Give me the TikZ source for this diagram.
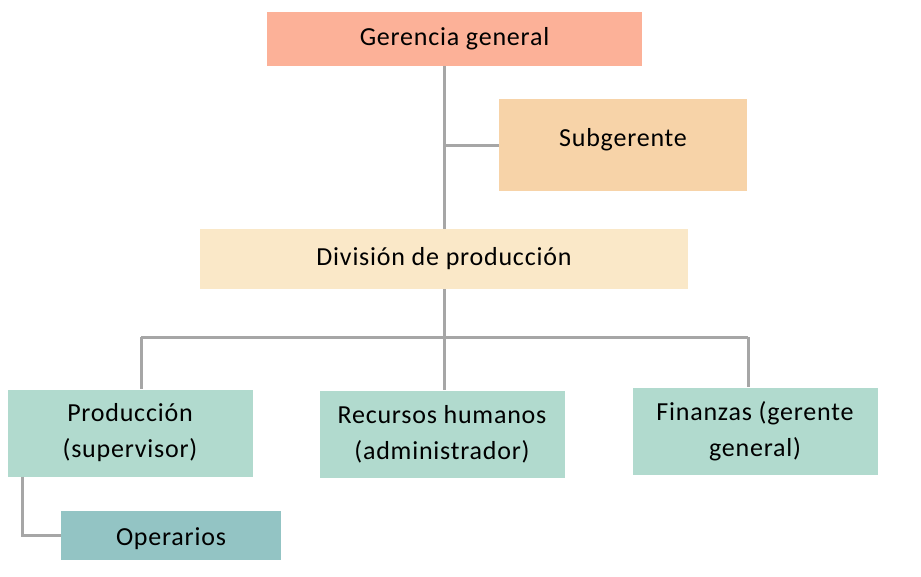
\documentclass[tikz,border=0pt]{standalone}
\usepackage{fontspec}
\setmainfont{Carlito}[LetterSpace=3]
\usetikzlibrary{positioning}
\definecolor{ggcol}{HTML}{FCB198}
\definecolor{subcol}{HTML}{F7D3A8}
\definecolor{divcol}{HTML}{FAE8C8}
\definecolor{areacol}{HTML}{B1DACE}
\definecolor{opcol}{HTML}{93C4C4}
\definecolor{linecol}{HTML}{A6A6A6}

\begin{document}
\begin{tikzpicture}[
    x=1pt, y=-1pt,
    unit/.style={
        rectangle,
        inner sep=0pt,
        align=center,
        font=\fontsize{26}{36}\selectfont,
        text=black,
    },
    area/.style={unit, fill=areacol, minimum width=245pt, minimum height=87pt},
    link/.style={draw=linecol, line width=3pt},
]
\useasboundingbox (0,0) rectangle (921,576);

\node[unit, fill=ggcol, minimum width=375pt, minimum height=54pt] (GG) at (454.5,39) {Gerencia general};
\node[unit, fill=subcol, minimum width=248pt, minimum height=92pt, text depth=15pt] (SG) at (623,145) {Subgerente};
\node[unit, fill=divcol, minimum width=488pt, minimum height=60pt] (DP) at (444,259) {División de producción};

\node[area] (PR) at (130,433) {Producción\\(supervisor)};
\node[area] (RH) at (442,434) {Recursos humanos\\(administrador)};
\node[area] (FI) at (755,431) {Finanzas (gerente\\general)};
\node[unit, fill=opcol, minimum width=220pt, minimum height=49pt, text height=24pt] (OP) at (171,535.5) {Operarios};

\coordinate (busL) at (141,337);
\coordinate (busM) at (444,337);
\coordinate (busR) at (748,337);
\coordinate (opL) at (22,0);

\draw[link] (DP.north |- GG.south) -- (DP.north);
\draw[link] (DP.north |- SG.west) -- (SG.west);
\draw[link] (DP.south) -- (busM);
\draw[link] (busL) -- (busR);
\draw[link] (busL) -- (busL |- PR.north);
\draw[link] (busM) -- (busM |- RH.north);
\draw[link] (busR) -- (busR |- FI.north);
\draw[link] (opL |- PR.south) |- (OP.west);
\end{tikzpicture}
\end{document}
